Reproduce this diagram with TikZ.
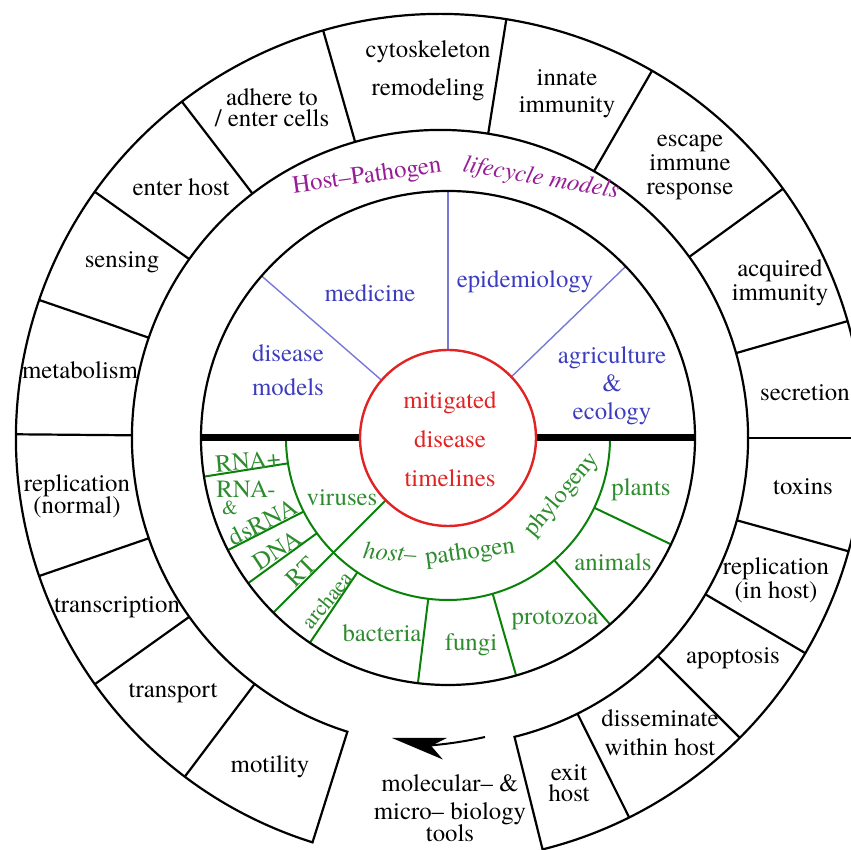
\documentclass[tikz,border=0pt]{standalone}
\usepackage{fontspec}
\setmainfont{texgyretermes}[Extension=.otf, UprightFont=*-regular, ItalicFont=*-italic, BoldFont=*-bold, BoldItalicFont=*-bolditalic]
\usetikzlibrary{arrows.meta}
\definecolor{fieldblue}{RGB}{60,60,190}
\definecolor{fieldline}{RGB}{120,120,215}
\definecolor{taxgreen}{RGB}{45,140,45}
\definecolor{taxline}{RGB}{10,130,10}
\definecolor{mitred}{RGB}{225,35,35}
\definecolor{lifepurple}{RGB}{150,30,150}
\newcommand{\stagefont}{\fontsize{12.4}{12}\selectfont}
\tikzset{
	band/.style      = {draw, line width=1.1pt},
	stage/.style     = {align=center, inner sep=0pt, font=\stagefont},
	field/.style     = {stage, text=fieldblue},
	taxon/.style     = {stage, text=taxgreen},
	mitigate/.style  = {stage, text=mitred},
	lifecycle/.style = {stage, text=lifepurple},
	fieldsplit/.style = {draw=fieldline, line width=0.7pt},
	taxsplit/.style   = {draw=taxline, line width=1pt},
	toolarrow/.style  = {draw, line width=1pt, -{Stealth[length=27pt,width=11pt,inset=7pt]}},
}

\begin{document}
\begin{tikzpicture}[x=0.5pt, y=0.5pt]
	\useasboundingbox (0,0) rectangle (851,850);
	\clip (0,0) rectangle (851,850);
	\coordinate (ring) at (440,412);
	\coordinate (hub) at (448,412);
	
	% Draw the outer band of lifecycle stages
	\begin{scope}[shift={(ring)}]
		\draw[band] (252.5:424) arc[start angle=252.5, end angle=-76, radius=424]
			-- (-76:308) arc[start angle=-76, end angle=252.5, radius=308] -- cycle;
		\foreach \a in {233,215.5,199,179.5,161,144.5,127.5,106,81,60,36,16,0,-15.5,-30.5,-45,-63.5}
			\draw[band] (\a:308) -- (\a:424);
	\end{scope}
	
	% Draw the inner disk with its fields and phylogeny
	\begin{scope}[shift={(hub)}]
		\foreach \a in {44,90,139}
			\draw[fieldsplit] (\a:88) -- (\a:247);
		\draw[taxsplit] (180:162) arc[start angle=180, end angle=360, radius=162];
		\foreach \a in {189,207,216,236,263,286,311,334.5}
			\draw[taxsplit] (\a:162) -- (\a:247);
		\draw[taxsplit] (225:88) -- (225:247);
		\draw[line width=3.5pt] (180:247) -- (180:88);
		\draw[line width=3.5pt] (0:88) -- (0:247);
		\draw[band] (0,0) circle[radius=247];
		\draw[draw=mitred, line width=1.2pt] (0,0) circle[radius=88];
	\end{scope}
	
	% Label the outer band
	\node[stage] (cyto)      at (428,779) {cytoskeleton\\[7pt]remodeling};
	\node[stage] (innate)    at (567,756) {innate\\[1.5pt]immunity};
	\node[stage] (escape)    at (690,683) {escape\\immune\\response};
	\node[stage] (acquired)  at (780,567) {acquired\\immunity};
	\node[stage] (secretion) at (805,457) {secretion};
	\node[stage] (toxins)    at (803,363) {toxins};
	\node[stage] (replhost)  at (776,270) {replication\\(in host)};
	\node[stage] (apoptosis) at (733,192) {apoptosis};
	\node[stage] (dissem)    at (660,117) {disseminate\\[2.5pt]within host};
	\node[stage] (exit)      at (569,67)  {exit\\[-1.5pt]host};
	\node[stage] (motility)  at (270,83)  {motility};
	\node[stage] (transport) at (173,157) {transport};
	\node[stage] (transcr)   at (117,243) {transcription};
	\node[stage] (replnorm)  at (77,354)  {replication\\[-1pt](normal)};
	\node[stage] (metab)     at (80,480)  {metabolism};
	\node[stage] (sensing)   at (122,588) {sensing};
	\node[stage] (enterhost) at (181,663) {enter host};
	\node[stage] (adhere)    at (272,742) {adhere to\\[-1.5pt]/ enter cells};
	
	% Label the fields of application
	\node[field] (medicine) at (370,557) {medicine};
	\node[field] (models)   at (288,480) {disease\\[5pt]models};
	\node[field] (epidem)   at (525,568) {epidemiology};
	\node[field] (agri)     at (612,464) {agriculture\\[2pt]\&\\[2pt]ecology};
	\node[mitigate] (mitig) at (450,411) {mitigated\\[7.5pt]disease\\[7.5pt]timelines};
	\node[lifecycle, rotate=8]   (hostpath)   at (367,673) {Host–Pathogen};
	\node[lifecycle, rotate=-10] (lifemodels) at (541,671) {\itshape lifecycle models};
	
	% Label the host-pathogen phylogeny
	\node[taxon] (viruses) at (342,352) {viruses};
	\node[taxon, rotate=-4] (host)      at (390,298) {\itshape host–};
	\node[taxon, rotate=8]  (pathogen)  at (470,297) {pathogen};
	\node[taxon, rotate=50] (phylogeny) at (562,355) {phylogeny};
	\node[taxon, rotate=5]  (rnaplus)   at (248,389) {RNA+};
	\node[taxon]            (rnaminus)  at (246,361) {RNA-};
	\node[taxon, font=\fontsize{10}{10}\selectfont] (rnaand) at (230,342) {\&};
	\node[taxon, rotate=27] (dsrna)     at (263,328) {dsRNA};
	\node[taxon, rotate=33] (dna)       at (277,300) {DNA};
	\node[taxon, rotate=45] (rt)        at (301,278) {RT};
	\node[taxon, rotate=50, font=\fontsize{11}{11}\selectfont] (archaea) at (327,250) {archaea};
	\node[taxon] (bacteria) at (382,217) {bacteria};
	\node[taxon] (fungi)    at (471,205) {fungi};
	\node[taxon] (protozoa) at (555,230) {protozoa};
	\node[taxon] (animals)  at (613,288) {animals};
	\node[taxon] (plants)   at (641,360) {plants};
	
	% Draw the tools arrow
	\node[stage] (tools) at (450,42) {molecular– \&\\[2pt]micro– biology\\[-1pt]tools};
	\coordinate (toolfrom) at (485,113);
	\coordinate (toolto)   at (392,112);
	\draw[toolarrow] (toolfrom) to[bend left=12] (toolto);
\end{tikzpicture}
\end{document}
